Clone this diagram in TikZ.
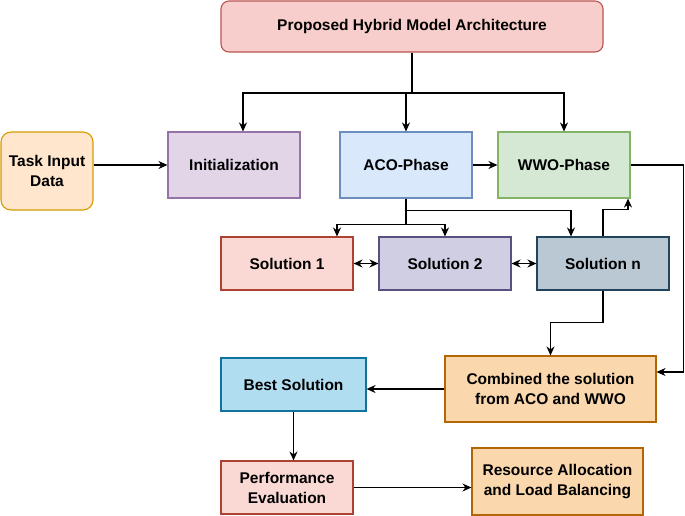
\documentclass[tikz,border=0pt]{standalone}
\usepackage{fontspec}
\setmainfont{Liberation Sans}
\usetikzlibrary{arrows.meta}
\definecolor{redfill}{HTML}{F8CECC}
\definecolor{reddraw}{HTML}{B85450}
\definecolor{orangefill}{HTML}{FFE6CC}
\definecolor{orangedraw}{HTML}{D79B00}
\definecolor{purplefill}{HTML}{E1D5E7}
\definecolor{purpledraw}{HTML}{9673A6}
\definecolor{bluefill}{HTML}{DAE8FC}
\definecolor{bluedraw}{HTML}{6C8EBF}
\definecolor{greenfill}{HTML}{D5E8D4}
\definecolor{greendraw}{HTML}{82B366}
\definecolor{salmonfill}{HTML}{FAD9D5}
\definecolor{salmondraw}{HTML}{AE4132}
\definecolor{violetfill}{HTML}{D0CEE2}
\definecolor{violetdraw}{HTML}{56517E}
\definecolor{slatefill}{HTML}{BAC8D3}
\definecolor{slatedraw}{HTML}{23445D}
\definecolor{skyfill}{HTML}{B1DDF0}
\definecolor{skydraw}{HTML}{10739E}
\definecolor{peachfill}{HTML}{FAD7AC}
\definecolor{peachdraw}{HTML}{B46504}

\begin{document}
\begin{tikzpicture}[x=1pt,y=-1pt,>={Stealth[length=9pt,width=8pt]},
    box/.style={draw,line width=1.1pt,minimum width=132pt,minimum height=66pt,
        align=center,inner sep=2pt,font=\bfseries\fontsize{15.5}{20}\selectfont},
    conn/.style={line width=1.5pt,black}]
        \useasboundingbox (0,0) rectangle (685,515);

        % draw the boxes
        \node[box,fill=redfill,draw=reddraw,rounded corners=8pt,minimum width=382pt,minimum height=51pt]
            (top) at (412,26.5) {Proposed Hybrid Model Architecture};
        \node[box,fill=orangefill,draw=orangedraw,rounded corners=10pt,minimum width=92pt,minimum height=78pt]
            (task) at (47,171) {Task Input\\Data};
        \node[box,fill=purplefill,draw=purpledraw] (init) at (234,165) {Initialization};
        \node[box,fill=bluefill,draw=bluedraw] (aco) at (406,165) {ACO-Phase};
        \node[box,fill=greenfill,draw=greendraw] (wwo) at (564,165) {WWO-Phase};
        \node[box,fill=salmonfill,draw=salmondraw,minimum height=53pt] (sol1) at (287,263.5) {Solution 1};
        \node[box,fill=violetfill,draw=violetdraw,minimum height=53pt] (sol2) at (445,263.5) {Solution 2};
        \node[box,fill=slatefill,draw=slatedraw,minimum height=53pt] (soln) at (603,263.5) {Solution n};
        \node[box,fill=skyfill,draw=skydraw,minimum width=145pt,minimum height=53pt] (best) at (293.5,384.5) {Best Solution};
        \node[box,fill=peachfill,draw=peachdraw,minimum width=211pt] (comb) at (550.5,389) {Combined the solution\\from ACO and WWO};
        \node[box,fill=salmonfill,draw=salmondraw,minimum height=53pt] (perf) at (287,487.5) {Performance\\Evaluation};
        \node[box,fill=peachfill,draw=peachdraw,minimum width=171pt,minimum height=67pt] (res) at (557.5,481.5) {Resource Allocation\\and Load Balancing};

        % draw the arrows from the top box
        \coordinate (split) at (412,93);
        \draw[conn] (top.south -| split) -- (split);
        \draw[conn,->] (split) -| ([xshift=9pt]init.north);
        \draw[conn,->] (split) -| (aco.north);
        \draw[conn,->] (split) -| (wwo.north);

        % input and phases
        \draw[conn,->] (task.east |- init) -- (init.west);
        \draw[conn,->] (aco) -- (wwo);

        % from ACO down to the solutions
        \draw[conn,->] (aco.south) -- ++(0,12) -| ([xshift=-32pt]soln.north);
        \draw[conn,->] (aco.south) -- ++(0,26) -| ([xshift=50pt]sol1.north);
        \draw[conn,->] (aco.south) -- ++(0,26) -| (sol2.north);
        \draw[conn,<->] (sol1) -- (sol2);
        \draw[conn,<->] (sol2) -- (soln);
        \draw[conn,->] (soln.north) -- ++(0,-27) -| ([xshift=64pt]wwo.south);

        % combine the solutions
        \draw[conn,->] (soln.south) -- ++(0,32) -| (comb.north);
        \draw[conn,->] (wwo.east) -- ++(53,0) |- ([yshift=17pt]comb.east);
        \draw[conn,->] (comb.west) -- (comb.west -| best.east);
        \draw[conn,->] (best.south) -- (best.south |- perf.north);
        \draw[conn,->] (perf.east) -- (perf.east -| res.west);
\end{tikzpicture}
\end{document}
